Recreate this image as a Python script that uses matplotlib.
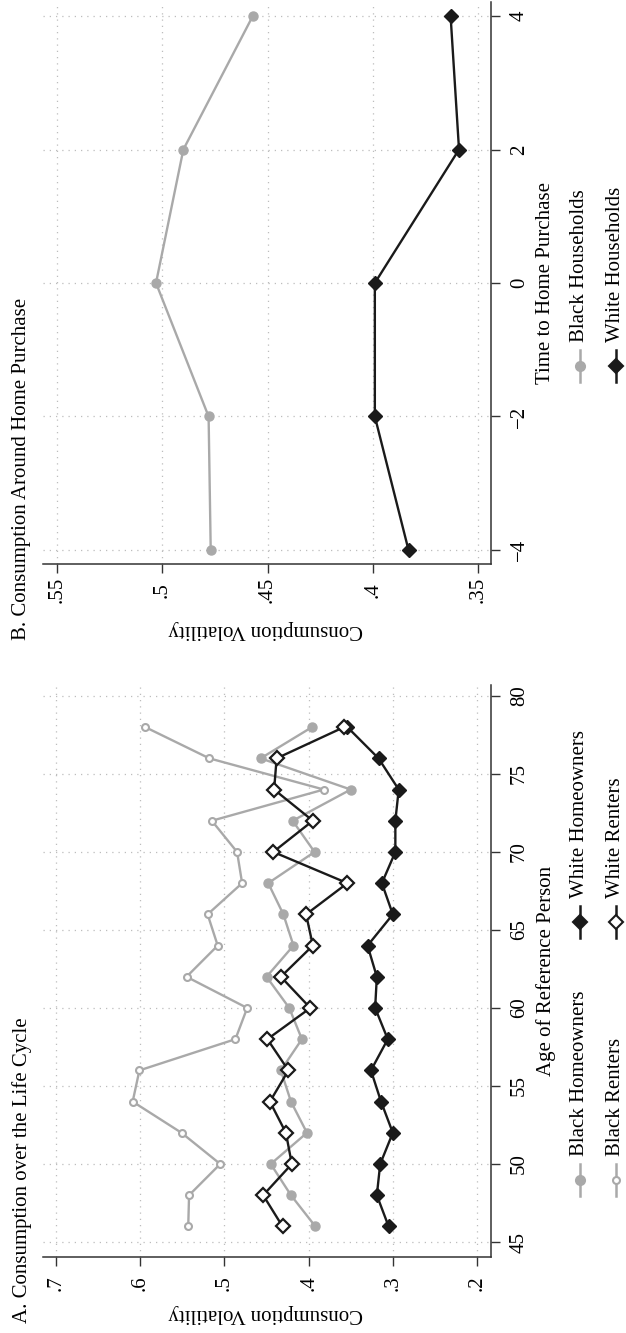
import matplotlib
matplotlib.use("Agg")
import matplotlib.pyplot as plt
from matplotlib.lines import Line2D
from matplotlib.ticker import FixedLocator, FixedFormatter

# Panel A: consumption volatility by age
ages = [46, 48, 50, 52, 54, 56, 58, 60, 62, 64, 66, 68, 70, 72, 74, 76, 78]
black_owners = [.392, .421, .445, .402, .421, .433, .408, .423, .450, .418,
                .430, .448, .393, .419, .350, .457, .396]
black_renters = [.543, .542, .505, .551, .609, .601, .487, .473, .545, .508,
                 .520, .479, .485, .515, .382, .518, .594]
white_owners = [.305, .319, .315, .300, .314, .326, .306, .321, .319, .330,
                .300, .313, .297, .297, .293, .317, .354]
white_renters = [.431, .454, .420, .427, .446, .424, .449, .398, .433, .395,
                 .403, .354, .442, .395, .441, .438, .358]

# Panel B: around home purchase
years = [-4, -2, 0, 2, 4]
black_hh = [.477, .478, .503, .490, .457]
white_hh = [.383, .399, .399, .359, .363]

volA_ticks = [.7, .6, .5, .4, .3, .2]
volA_labels = ['.7', '.6', '.5', '.4', '.3', '.2']
age_ticks = [45, 50, 55, 60, 65, 70, 75, 80]
volB_ticks = [.55, .5, .45, .4, .35]
volB_labels = ['.55', '.5', '.45', '.4', '.35']
year_ticks = [-4, -2, 0, 2, 4]
year_labels = ['\u22124', '\u22122', '0', '2', '4']

plt.rcParams['font.family'] = ['Liberation Serif', 'DejaVu Serif']
FS = 15

W, H = 626, 1333
GRAY = '#a9a9a9'
DARK = '#1a1a1a'


def fx(px):
    return px / W


def fy(py):
    return 1 - py / H


fig = plt.figure(figsize=(W / 100, H / 100), dpi=100)


def style_axes(ax, xticks, xlabels, yticks, ylabels):
    # the page is turned: values run right-to-left, the time axis bottom-to-top
    for s in ('top', 'left'):
        ax.spines[s].set_visible(False)
    for s in ('bottom', 'right'):
        ax.spines[s].set_linewidth(1.1)
        ax.spines[s].set_color('#333333')
    ax.xaxis.set_major_locator(FixedLocator(xticks))
    ax.xaxis.set_major_formatter(FixedFormatter(xlabels))
    ax.yaxis.set_major_locator(FixedLocator(yticks))
    ax.yaxis.set_major_formatter(FixedFormatter(ylabels))
    ax.yaxis.tick_right()
    ax.tick_params(axis='both', direction='out', length=6.5, width=1.0,
                   color='#333333', labelsize=FS, pad=3)
    for t in ax.get_xticklabels() + ax.get_yticklabels():
        t.set_rotation(90)
        t.set_ha('center')
        t.set_va('center')
    ax.tick_params(axis='x', pad=12)
    ax.tick_params(axis='y', pad=14)
    ax.grid(True, linestyle=(0, (1, 4)), color='#bdbdbd', linewidth=0.9)
    ax.set_axisbelow(True)
    ax.set_facecolor('white')


def draw_key(x, y, color, marker, face, ms, text):
    fig.add_artist(Line2D([fx(x), fx(x)], [fy(y - 16), fy(y + 16)],
                          transform=fig.transFigure, color=color, lw=1.8))
    fig.add_artist(Line2D([fx(x)], [fy(y)], transform=fig.transFigure,
                          marker=marker, ms=ms, mfc=face, mec=color,
                          mew=1.5, color=color, lw=0))
    fig.text(fx(x), fy(y - 24), text, rotation=90, ha='center', va='bottom',
             fontsize=FS)


# ---------------- Panel A (lower half of page) ----------------
axA = fig.add_axes([fx(43), fy(1257), fx(491) - fx(43), fy(685) - fy(1257)])
axA.plot(black_owners, ages, color=GRAY, lw=1.7, marker='o', ms=6.5,
         mfc=GRAY, mec=GRAY)
axA.plot(black_renters, ages, color=GRAY, lw=1.7, marker='o', ms=5,
         mfc='white', mec=GRAY, mew=1.5)
axA.plot(white_owners, ages, color=DARK, lw=1.7, marker='D', ms=7.5,
         mfc=DARK, mec=DARK)
axA.plot(white_renters, ages, color=DARK, lw=1.7, marker='D', ms=7,
         mfc='white', mec=DARK, mew=1.6)
axA.set_xlim(0.7155, 0.1834)
axA.set_ylim(44.04, 80.7)
style_axes(axA, volA_ticks, volA_labels, age_ticks, [str(a) for a in age_ticks])
fig.text(fx(266), fy(1313), 'Consumption Volatility', rotation=180,
         ha='center', va='center', fontsize=FS)
fig.text(fx(546), fy(971), 'Age of Reference Person', rotation=90,
         ha='center', va='center', fontsize=FS)
fig.text(fx(22), fy(1323), 'A. Consumption over the Life Cycle', rotation=90,
         ha='center', va='bottom', fontsize=FS)
draw_key(580, 1180, GRAY, 'o', GRAY, 6.5, 'Black Homeowners')
draw_key(616, 1180, GRAY, 'o', 'white', 5, 'Black Renters')
draw_key(580, 922, DARK, 'D', DARK, 7.5, 'White Homeowners')
draw_key(616, 922, DARK, 'D', 'white', 7, 'White Renters')

# ---------------- Panel B (upper half of page) ----------------
axB = fig.add_axes([fx(43), fy(564), fx(491) - fx(43), fy(2) - fy(564)])
axB.plot(black_hh, years, color=GRAY, lw=1.7, marker='o', ms=6.5,
         mfc=GRAY, mec=GRAY)
axB.plot(white_hh, years, color=DARK, lw=1.7, marker='D', ms=7.5,
         mfc=DARK, mec=DARK)
axB.set_xlim(0.5567, 0.3438)
axB.set_ylim(-4.21, 4.21)
style_axes(axB, volB_ticks, volB_labels, year_ticks, year_labels)
fig.text(fx(266), fy(630), 'Consumption Volatility', rotation=180,
         ha='center', va='center', fontsize=FS)
fig.text(fx(546), fy(283), 'Time to Home Purchase', rotation=90,
         ha='center', va='center', fontsize=FS)
fig.text(fx(22), fy(640), 'B. Consumption Around Home Purchase', rotation=90,
         ha='center', va='bottom', fontsize=FS)
draw_key(580, 366, GRAY, 'o', GRAY, 6.5, 'Black Households')
draw_key(616, 366, DARK, 'D', DARK, 7.5, 'White Households')

fig.savefig('out.png', dpi=100, facecolor='white')
